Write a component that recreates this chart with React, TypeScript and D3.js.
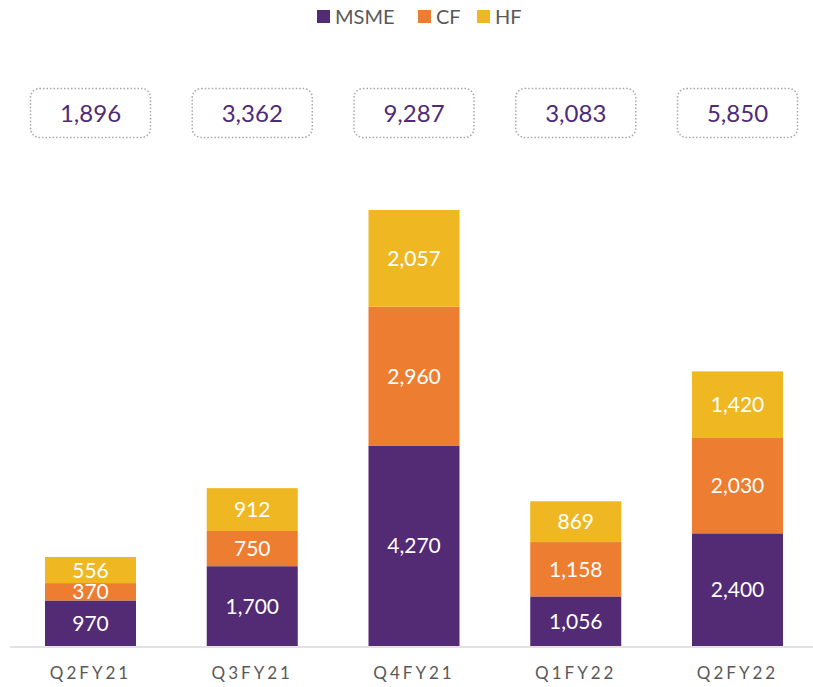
import React, { useEffect, useRef } from "react";
import * as d3 from "d3";

const categories = ["Q2FY21", "Q3FY21", "Q4FY21", "Q1FY22", "Q2FY22"];
const seriesNames = ["MSME", "CF", "HF"];
const msme = [970, 1700, 4270, 1056, 2400];
const cf = [370, 750, 2960, 1158, 2030];
const hf = [556, 912, 2057, 869, 1420];
const totals = [1896, 3362, 9287, 3083, 5850];
const colors = ["#532a74", "#ed7d31", "#efb822"];

const width = 813;
const height = 687;

const App = () => {
  const svgRef = useRef<SVGSVGElement>(null);

  useEffect(() => {
    const svg = d3.select(svgRef.current);
    svg.selectAll("*").remove();

    const font = "Lato, 'Open Sans', sans-serif";
    const baseline = 646;

    // step ~161.75px, bars ~91px wide, first bar starts at x=45
    const step = 161.75;
    const inner = 70.75 / step;
    const outer = 0.2;
    const x0 = 45 - outer * step;
    const x = d3
      .scaleBand()
      .domain(categories)
      .range([x0, x0 + step * (categories.length - inner + 2 * outer)])
      .paddingInner(inner)
      .paddingOuter(outer);

    // y scale: 0 at the baseline, 9,287 reaches y=210
    const y = d3.scaleLinear().domain([0, 9287]).range([baseline, 210]);

    const rows = categories.map((c, i) => ({ cat: c, MSME: msme[i], CF: cf[i], HF: hf[i] }));
    const stacked = d3.stack<any>().keys(seriesNames)(rows);

    const layers = svg
      .selectAll(".layer")
      .data(stacked)
      .join("g")
      .attr("fill", (_, i) => colors[i]);

    layers
      .selectAll("rect")
      .data((d) => d)
      .join("rect")
      .attr("x", (d: any) => x(d.data.cat)!)
      .attr("y", (d) => y(d[1]))
      .attr("width", x.bandwidth())
      .attr("height", (d) => y(d[0]) - y(d[1]));

    layers
      .selectAll("text")
      .data((d) => d)
      .join("text")
      .attr("x", (d: any) => x(d.data.cat)! + x.bandwidth() / 2)
      .attr("y", (d) => (y(d[0]) + y(d[1])) / 2)
      .attr("dy", "0.36em")
      .attr("text-anchor", "middle")
      .attr("fill", "#ffffff")
      .attr("font-family", font)
      .attr("font-size", 21)
      .text((d) => d3.format(",")(d[1] - d[0]));

    // axis line
    svg
      .append("line")
      .attr("x1", 10)
      .attr("x2", width)
      .attr("y1", baseline + 1)
      .attr("y2", baseline + 1)
      .attr("stroke", "#d9d9d9")
      .attr("stroke-width", 1.5);

    const xAxis = d3.axisBottom(x).tickSize(0).tickPadding(20);
    const gx = svg.append("g").attr("transform", `translate(0, ${baseline + 1})`).call(xAxis);
    gx.select(".domain").remove();
    gx.selectAll("text")
      .attr("font-family", font)
      .attr("font-size", 17)
      .attr("letter-spacing", "3px")
      .attr("fill", "#595959");

    // total boxes
    const boxW = 120;
    const boxH = 49;
    const boxes = svg
      .selectAll(".total")
      .data(totals)
      .join("g")
      .attr("transform", (_, i) => `translate(${x(categories[i])! + x.bandwidth() / 2}, 113)`);
    boxes
      .append("rect")
      .attr("x", -boxW / 2)
      .attr("y", -boxH / 2)
      .attr("width", boxW)
      .attr("height", boxH)
      .attr("rx", 9)
      .attr("fill", "none")
      .attr("stroke", "#a6a6a6")
      .attr("stroke-width", 1.5)
      .attr("stroke-dasharray", "1.5 2");
    boxes
      .append("text")
      .attr("text-anchor", "middle")
      .attr("dy", "0.36em")
      .attr("fill", "#4f2a79")
      .attr("font-family", font)
      .attr("font-size", 24)
      .text((d) => d3.format(",")(d));

    // legend
    const legendX = [317, 418, 477];
    const legend = svg
      .selectAll(".legend")
      .data(seriesNames)
      .join("g")
      .attr("transform", (_, i) => `translate(${legendX[i]}, 17)`);
    legend
      .append("rect")
      .attr("x", 0)
      .attr("y", -7)
      .attr("width", 13)
      .attr("height", 13)
      .attr("fill", (_, i) => colors[i]);
    legend
      .append("text")
      .attr("x", 18)
      .attr("dy", "0.36em")
      .attr("fill", "#595959")
      .attr("font-family", font)
      .attr("font-size", 20)
      .text((d) => d);
  }, []);

  return (
    <svg
      ref={svgRef}
      width={width}
      height={height}
      style={{ position: "absolute", left: 0, top: 0, background: "#fff" }}
    />
  );
};

export default App;
